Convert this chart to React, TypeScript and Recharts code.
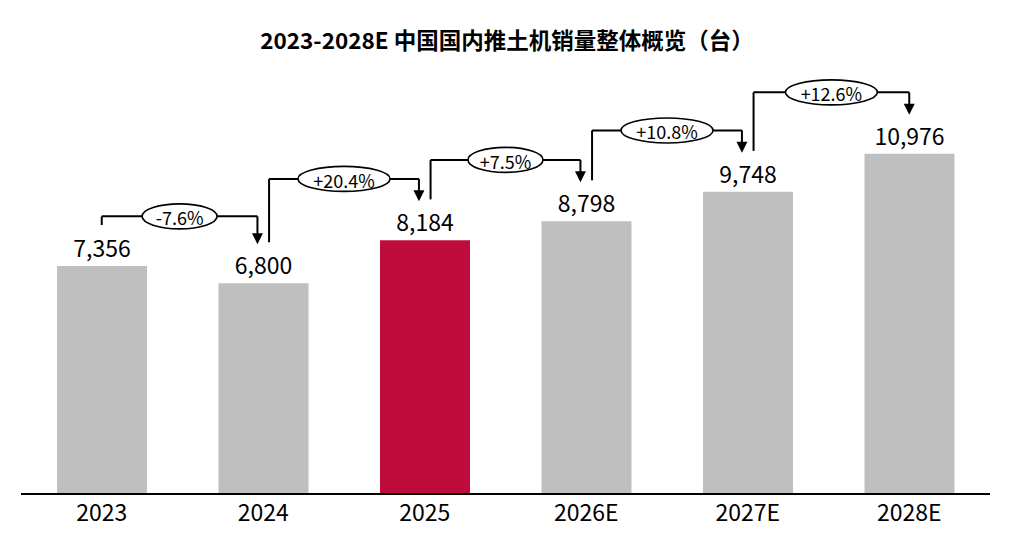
import React from 'react';
import {
  BarChart,
  Bar,
  XAxis,
  YAxis,
  Cell,
  LabelList,
  ReferenceLine,
  ReferenceDot,
} from 'recharts';

const categories = ['2023', '2024', '2025', '2026E', '2027E', '2028E'];
const sales = [7356, 6800, 8184, 8798, 9748, 10976];
const growthLabels = ['-7.6%', '+20.4%', '+7.5%', '+10.8%', '+12.6%'];
const highlightIndex = 2;

const FONT = '"Noto Sans CJK SC", "Noto Sans", sans-serif';
const GRAY = '#bfbfbf';
const RED = '#c00c3c';

const data = categories.map((name, idx) => ({ idx, name, value: sales[idx] }));

// bracket geometry in data units (y) and category units (x)
const START_GAP = 1320;
const TIP_GAP = 1260;
const X_SHIFT = 0.036;

const brackets = growthLabels.map((label, i) => {
  const a = sales[i];
  const b = sales[i + 1];
  const x1 = i === 0 ? i : i + X_SHIFT;
  const x2 = i + 1 === sales.length - 1 ? i + 1 : i + 1 - X_SHIFT;
  const level = Math.max(a, b) + (i === 0 ? 1600 : 1980);
  return {
    label,
    x1,
    x2,
    level,
    startBottom: a + START_GAP,
    tip: b + TIP_GAP,
  };
});

const Arrow = (props: any) => {
  const { cx, cy } = props;
  return <path d={`M${cx},${cy} L${cx - 5.5},${cy - 11} L${cx + 5.5},${cy - 11} Z`} fill="#000" />;
};

const makeBubble = (label: string) => (props: any) => {
  const { cx, cy } = props;
  const rx = label.length * 8.5 - 5;
  return (
    <g>
      <ellipse cx={cx} cy={cy} rx={rx} ry={12.5} fill="#fff" stroke="#000" strokeWidth={1.6} />
      <text
        x={cx}
        y={cy + 1}
        textAnchor="middle"
        dominantBaseline="central"
        fontSize={18}
        fontFamily={FONT}
        fill="#000"
      >
        {label}
      </text>
    </g>
  );
};

export default function App() {
  return (
    <div style={{ position: 'absolute', left: 0, top: 0, width: 1014, height: 543, background: '#fff' }}>
      <div
        style={{
          position: 'absolute',
          left: 0,
          top: 24,
          width: 1014,
          textAlign: 'center',
          fontFamily: FONT,
          fontWeight: 700,
          fontSize: 22.5,
          lineHeight: '30px',
          color: '#000',
        }}
      >
        2023-2028E 中国国内推土机销量整体概览（台）
      </div>
      <BarChart
        width={1014}
        height={543}
        data={data}
        margin={{ top: 60, right: 24, bottom: 9, left: 21 }}
      >
        <XAxis
          type="number"
          dataKey="idx"
          domain={[-0.5, 5.5]}
          ticks={[0, 1, 2, 3, 4, 5]}
          tickFormatter={(v: number) => categories[v]}
          axisLine={{ stroke: '#000', strokeWidth: 2 }}
          tickLine={false}
          tickMargin={5}
          height={40}
          tick={{ fontSize: 23, fill: '#000', fontFamily: FONT }}
          allowDataOverflow
        />
        <YAxis hide domain={[0, 14000]} />
        <Bar dataKey="value" barSize={90} isAnimationActive={false}>
          {data.map((d) => (
            <Cell key={d.name} fill={d.idx === highlightIndex ? RED : GRAY} />
          ))}
          <LabelList
            dataKey="value"
            position="top"
            offset={9}
            formatter={(v: any) => Number(v).toLocaleString('en-US')}
            style={{ fontSize: 23, fill: '#000', fontFamily: FONT }}
          />
        </Bar>
        {brackets.map((b, i) => (
          <ReferenceLine
            key={`v1-${i}`}
            segment={[
              { x: b.x1, y: b.startBottom },
              { x: b.x1, y: b.level },
            ]}
            stroke="#000"
            strokeWidth={2}
          />
        ))}
        {brackets.map((b, i) => (
          <ReferenceLine
            key={`h-${i}`}
            segment={[
              { x: b.x1, y: b.level },
              { x: b.x2, y: b.level },
            ]}
            stroke="#000"
            strokeWidth={2}
          />
        ))}
        {brackets.map((b, i) => (
          <ReferenceLine
            key={`v2-${i}`}
            segment={[
              { x: b.x2, y: b.level },
              { x: b.x2, y: b.tip + 300 },
            ]}
            stroke="#000"
            strokeWidth={2}
          />
        ))}
        {brackets.map((b, i) => (
          <ReferenceDot key={`a-${i}`} x={b.x2} y={b.tip} r={1} shape={Arrow} />
        ))}
        {brackets.map((b, i) => (
          <ReferenceDot
            key={`e-${i}`}
            x={(b.x1 + b.x2) / 2}
            y={b.level}
            r={1}
            shape={makeBubble(b.label)}
          />
        ))}
      </BarChart>
    </div>
  );
}
